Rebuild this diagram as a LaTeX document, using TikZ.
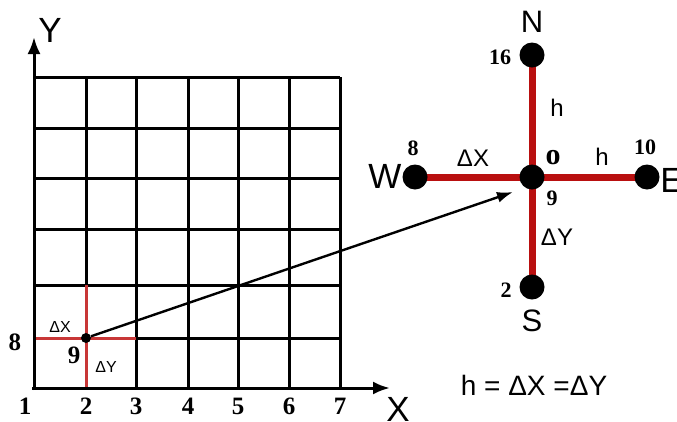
\documentclass[tikz,border=0pt]{standalone}
\usepackage{fontspec}
\setmainfont{Liberation Serif}
\newfontfamily\lsans{Liberation Sans}
\usetikzlibrary{arrows.meta}
\definecolor{crossred}{RGB}{185,15,15}
\definecolor{gridred}{RGB}{200,55,55}
\tikzset{
  gridline/.style={line width=3pt,black},
  axisline/.style={line width=3pt,black,-{Latex[length=17pt,width=13pt]}},
  redthin/.style={line width=3pt,gridred},
  redthick/.style={line width=7pt,crossred},
  bigdot/.style={circle,fill=black,minimum size=25pt,inner sep=0pt},
  smalldot/.style={circle,fill=black,minimum size=10pt,inner sep=0pt},
  num/.style={inner sep=0pt,font=\fontsize{25}{25}\selectfont\bfseries},
  cnum/.style={inner sep=0pt,font=\fontsize{22}{22}\selectfont\bfseries},
  biglbl/.style={inner sep=0pt,font=\lsans\fontsize{35}{35}\selectfont},
  lbl/.style={inner sep=0pt,font=\lsans\fontsize{24}{24}\selectfont},
  smalllbl/.style={inner sep=0pt,font=\lsans\fontsize{16}{16}\selectfont},
  pointer/.style={line width=2.4pt,black,-{Latex[length=16pt,width=11pt]}}
}
\begin{document}
\begin{tikzpicture}[x=1pt,y=-1pt]
\useasboundingbox (0,0) rectangle (677,421);
% grid
\foreach \gx in {86,136,188,238,289,340} \draw[gridline] (\gx,77) -- (\gx,388);
\foreach \gy in {77,128,178,229,285,338} \draw[gridline] (34,\gy) -- (340,\gy);
% red lines in grid
\draw[redthin] (86,285) -- (86,388);
\draw[redthin] (34,338) -- (136,338);
% axes
\draw[axisline] (34,390) -- (34,37);
\draw[axisline] (32,388) -- (390,388);
\node[biglbl] (ylab) at (50,30) {Y};
\node[biglbl] (xlab) at (398,409) {X};
% axis numbers
\node[num] (n1) at (25,406) {1};
\node[num] (n2) at (86,406) {2};
\node[num] (n3) at (136,406) {3};
\node[num] (n4) at (188,406) {4};
\node[num] (n5) at (238,406) {5};
\node[num] (n6) at (289,406) {6};
\node[num] (n7) at (340,406) {7};
\node[num] (n8) at (15,342) {8};
% grid point
\node[smalldot] (g) at (86,338) {};
\node[smalllbl] (gdx) at (60,327) {ΔX};
\node[num] (g9) at (74,355) {9};
\node[smalllbl] (gdy) at (106,367) {ΔY};
% cross
\coordinate (O) at (532,177);
\coordinate (Np) at (532,55);
\coordinate (Sp) at (532,287);
\coordinate (Wp) at (415,177);
\coordinate (Ep) at (647,177);
\draw[redthick] (Np) -- (Sp);
\draw[redthick] (Wp) -- (Ep);
\node[bigdot] (o) at (O) {};
\node[bigdot] (n) at (Np) {};
\node[bigdot] (s) at (Sp) {};
\node[bigdot] (w) at (Wp) {};
\node[bigdot] (e) at (Ep) {};
% cross labels
\node[biglbl,font=\lsans\fontsize{31}{31}\selectfont] (N) at (532,22) {N};
\node[biglbl,font=\lsans\fontsize{31}{31}\selectfont] (S) at (532,321) {S};
\node[biglbl] (W) at (385,176) {W};
\node[biglbl] (E) at (672,180) {E};
\node[cnum] (c16) at (500,57) {16};
\node[cnum] (c8) at (413,148) {8};
\node[cnum] (c10) at (645,147) {10};
\node[cnum] (c9) at (552,198) {9};
\node[cnum] (c2) at (506,290) {2};
\node[cnum,font=\fontsize{30}{30}\selectfont\bfseries] (co) at (553,158) {o};
\node[lbl] (h1) at (557,108) {h};
\node[lbl] (h2) at (602,157) {h};
\node[lbl] (cdx) at (473,158) {ΔX};
\node[lbl] (cdy) at (557,237) {ΔY};
% pointer
\coordinate (tip) at (513,192);
\draw[pointer] (g) -- (tip);
% equation
\node[inner sep=0pt,font=\lsans\fontsize{28}{28}\selectfont] (eq) at (534,385) {h = ΔX =ΔY};
\end{tikzpicture}
\end{document}
